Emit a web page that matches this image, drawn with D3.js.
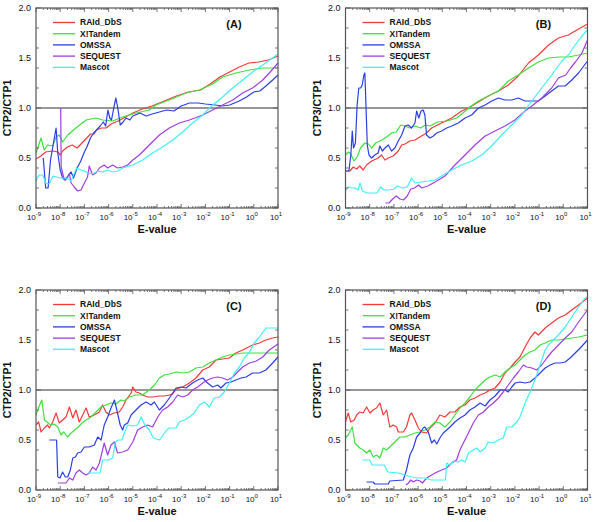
<!DOCTYPE html>
<html><head><meta charset="utf-8">
<script src="https://cdn.jsdelivr.net/npm/d3@7"></script>
<style>body{margin:0;background:#fff}svg{display:block}</style>
</head><body><svg id="chart" width="600" height="522"></svg>
<script>
// ---- DATA: [log10(E-value), ratio] ----
const seriesNames = ["RAId_DbS","X!Tandem","OMSSA","SEQUEST","Mascot"];
const seriesColors = ["#f23a3a","#3ee03e","#2a3fe6","#a23ee0","#3ff2f2"];
const panelTags = ["(A)","(B)","(C)","(D)"];
const yTitles = ["CTP2/CTP1","CTP3/CTP1","CTP2/CTP1","CTP3/CTP1"];
const xTickExps = [-9,-8,-7,-6,-5,-4,-3,-2,-1,0,1];
const yTicks = [0,0.5,1,1.5,2];
const yTickLabels = ["0.0","0.5","1.0","1.5","2.0"];
const xTitle = "E-value";
const refLine = 1.0;

const A_RAId = [[-9,0.49],[-8.8,0.52],[-8.6,0.56],[-8.3,0.57],[-8.1,0.56],[-8.0,0.53],[-7.9,0.57],[-7.7,0.61],[-7.5,0.63],[-7.3,0.60],[-7.1,0.65],[-6.9,0.70],[-6.75,0.74],[-6.6,0.74],[-6.5,0.78],[-6.3,0.80],[-6.1,0.80],[-5.9,0.84],[-5.6,0.87],[-5.3,0.91],[-5.0,0.95],[-4.6,0.99],[-4.2,1.02],[-3.6,1.08],[-3.2,1.12],[-2.7,1.16],[-2.2,1.18],[-1.8,1.24],[-1.4,1.31],[-1.0,1.36],[-0.6,1.41],[-0.2,1.45],[0.2,1.46],[0.6,1.48],[1.0,1.52]];
const A_XTandem = [[-9,0.55],[-8.79,0.70],[-8.66,0.58],[-8.52,0.63],[-8.31,0.62],[-8.17,0.71],[-8.04,0.73],[-7.9,0.66],[-7.69,0.73],[-7.35,0.80],[-6.93,0.88],[-6.52,0.90],[-6.25,0.88],[-5.83,0.87],[-5.42,0.91],[-4.87,0.95],[-4.32,0.98],[-4.04,1.03],[-3.49,1.08],[-2.8,1.15],[-2.25,1.18],[-1.7,1.24],[-1.29,1.31],[-0.74,1.35],[-0.18,1.38],[0.37,1.40],[1.0,1.40]];
const A_OMSSA = [[-8.70,0.50],[-8.60,0.20],[-8.50,0.20],[-8.40,0.48],[-8.30,0.62],[-8.17,0.80],[-8.10,0.55],[-8.0,0.38],[-7.9,0.30],[-7.78,0.28],[-7.65,0.33],[-7.55,0.36],[-7.45,0.30],[-7.3,0.40],[-7.15,0.47],[-7.0,0.56],[-6.88,0.62],[-6.75,0.70],[-6.62,0.75],[-6.5,0.78],[-6.35,0.82],[-6.22,0.86],[-6.12,0.82],[-6.03,0.98],[-5.95,0.90],[-5.88,0.88],[-5.78,1.01],[-5.7,1.10],[-5.62,1.0],[-5.52,0.83],[-5.4,0.86],[-5.28,0.90],[-5.12,0.88],[-5.0,0.92],[-4.7,0.95],[-4.45,0.92],[-4.2,0.94],[-3.9,0.96],[-3.6,0.98],[-3.3,0.97],[-3.0,1.02],[-2.66,1.05],[-2.3,1.05],[-2.0,1.04],[-1.6,1.03],[-1.3,1.02],[-1.0,1.03],[-0.6,1.07],[-0.3,1.11],[0.0,1.16],[0.25,1.17],[0.5,1.22],[0.78,1.28],[1.0,1.33]];
const A_SEQUEST = [[-7.98,1.0],[-7.96,0.41],[-7.83,0.28],[-7.7,0.31],[-7.62,0.34],[-7.55,0.25],[-7.42,0.21],[-7.28,0.17],[-7.14,0.18],[-7.0,0.25],[-6.87,0.31],[-6.8,0.42],[-6.66,0.33],[-6.52,0.35],[-6.38,0.40],[-6.18,0.43],[-6.04,0.40],[-5.83,0.43],[-5.63,0.40],[-5.42,0.41],[-5.21,0.43],[-5.0,0.48],[-4.73,0.53],[-4.32,0.63],[-3.9,0.73],[-3.49,0.80],[-3.08,0.85],[-2.66,0.88],[-2.11,0.93],[-1.7,0.98],[-1.29,1.03],[-0.87,1.08],[-0.46,1.15],[-0.05,1.20],[0.37,1.28],[0.64,1.35],[1.0,1.45]];
const A_Mascot = [[-9,0.27],[-8.88,0.33],[-8.72,0.33],[-8.6,0.25],[-8.45,0.24],[-8.3,0.32],[-8.15,0.31],[-8.0,0.30],[-7.8,0.30],[-7.65,0.29],[-7.55,0.27],[-7.45,0.33],[-7.32,0.40],[-7.15,0.38],[-7.0,0.37],[-6.85,0.35],[-6.66,0.34],[-6.45,0.37],[-6.25,0.36],[-6.05,0.38],[-5.83,0.36],[-5.62,0.37],[-5.42,0.40],[-5.0,0.43],[-4.59,0.48],[-4.18,0.55],[-3.77,0.61],[-3.35,0.68],[-2.94,0.76],[-2.53,0.85],[-2.11,0.93],[-1.70,1.03],[-1.29,1.11],[-0.87,1.20],[-0.46,1.28],[-0.05,1.36],[0.37,1.43],[1.0,1.54]];

const B_RAId = [[-9,0.37],[-8.82,0.37],[-8.68,0.41],[-8.54,0.39],[-8.41,0.42],[-8.27,0.38],[-8.13,0.43],[-7.92,0.47],[-7.65,0.50],[-7.51,0.53],[-7.37,0.48],[-7.23,0.50],[-7.03,0.52],[-6.82,0.57],[-6.68,0.63],[-6.54,0.64],[-6.34,0.67],[-6.13,0.68],[-5.86,0.72],[-5.65,0.75],[-5.44,0.80],[-5.03,0.85],[-4.61,0.90],[-4.2,0.97],[-3.92,1.0],[-3.51,1.06],[-3.1,1.12],[-2.68,1.17],[-2.27,1.23],[-1.86,1.32],[-1.44,1.45],[-1.03,1.53],[-0.61,1.63],[-0.2,1.70],[0.21,1.73],[0.63,1.79],[1.0,1.84]];
const B_XTandem = [[-9,0.53],[-8.88,0.56],[-8.78,0.54],[-8.65,0.47],[-8.5,0.52],[-8.38,0.60],[-8.2,0.65],[-8.05,0.64],[-7.92,0.60],[-7.75,0.65],[-7.5,0.68],[-7.3,0.71],[-7.1,0.75],[-6.9,0.76],[-6.72,0.83],[-6.55,0.82],[-6.35,0.80],[-6.13,0.82],[-5.9,0.80],[-5.7,0.83],[-5.5,0.82],[-5.2,0.86],[-4.8,0.87],[-4.4,0.90],[-4.1,0.96],[-3.75,1.03],[-3.5,1.07],[-3.1,1.12],[-2.68,1.17],[-2.27,1.27],[-1.86,1.33],[-1.44,1.40],[-1.03,1.46],[-0.61,1.50],[-0.2,1.51],[0.21,1.51],[0.63,1.53],[1.0,1.55]];
const B_OMSSA = [[-9,0.37],[-8.86,0.37],[-8.78,0.53],[-8.72,0.77],[-8.67,0.60],[-8.59,0.65],[-8.52,1.03],[-8.45,1.20],[-8.37,1.20],[-8.31,1.23],[-8.24,1.33],[-8.2,1.35],[-8.13,0.85],[-8.1,0.63],[-8.03,0.53],[-7.92,0.50],[-7.79,0.53],[-7.65,0.55],[-7.58,0.62],[-7.48,0.57],[-7.37,0.60],[-7.23,0.63],[-7.1,0.57],[-6.96,0.60],[-6.82,0.67],[-6.68,0.73],[-6.54,0.82],[-6.41,0.83],[-6.27,0.80],[-6.13,0.85],[-6.06,0.97],[-5.97,0.90],[-5.88,0.97],[-5.79,0.98],[-5.72,0.93],[-5.65,0.73],[-5.51,0.70],[-5.37,0.72],[-5.23,0.75],[-5.03,0.77],[-4.82,0.80],[-4.61,0.82],[-4.34,0.85],[-4.06,0.90],[-3.79,0.93],[-3.51,1.0],[-3.23,1.03],[-2.96,1.07],[-2.68,1.10],[-2.41,1.08],[-2.13,1.08],[-1.86,1.10],[-1.58,1.07],[-1.3,1.07],[-1.03,1.07],[-0.75,1.12],[-0.48,1.17],[-0.2,1.22],[0.08,1.22],[0.35,1.28],[0.63,1.35],[1.0,1.47]];
const B_SEQUEST = [[-7.35,0.05],[-7.2,0.05],[-7.05,0.09],[-6.9,0.12],[-6.75,0.09],[-6.6,0.08],[-6.45,0.12],[-6.3,0.19],[-6.15,0.20],[-5.98,0.23],[-5.85,0.20],[-5.6,0.22],[-5.3,0.26],[-4.89,0.32],[-4.48,0.43],[-4.06,0.53],[-3.65,0.63],[-3.23,0.72],[-2.82,0.77],[-2.41,0.82],[-2.0,0.88],[-1.58,0.97],[-1.3,1.02],[-0.89,1.10],[-0.48,1.20],[-0.2,1.30],[0.1,1.33],[0.3,1.40],[0.5,1.46],[0.77,1.55],[1.0,1.68]];
const B_Mascot = [[-9,0.17],[-8.9,0.21],[-8.75,0.20],[-8.6,0.20],[-8.48,0.18],[-8.4,0.25],[-8.3,0.17],[-8.1,0.15],[-7.9,0.15],[-7.7,0.15],[-7.55,0.21],[-7.4,0.18],[-7.2,0.18],[-7.0,0.19],[-6.85,0.22],[-6.65,0.20],[-6.45,0.21],[-6.27,0.30],[-6.13,0.25],[-5.86,0.26],[-5.58,0.27],[-5.3,0.28],[-5.03,0.32],[-4.61,0.38],[-4.2,0.43],[-3.78,0.47],[-3.37,0.53],[-2.96,0.62],[-2.55,0.73],[-2.13,0.83],[-1.72,0.93],[-1.3,1.07],[-0.89,1.20],[-0.48,1.33],[-0.06,1.47],[0.21,1.53],[0.49,1.63],[0.77,1.72],[1.0,1.78]];

const C_RAId = [[-9,0.65],[-8.89,0.68],[-8.79,0.58],[-8.66,0.62],[-8.52,0.65],[-8.45,0.62],[-8.31,0.68],[-8.17,0.77],[-8.04,0.67],[-7.9,0.70],[-7.76,0.73],[-7.62,0.83],[-7.48,0.72],[-7.35,0.80],[-7.21,0.68],[-7.07,0.75],[-6.93,0.82],[-6.8,0.73],[-6.59,0.75],[-6.38,0.78],[-6.25,0.85],[-6.11,0.78],[-5.97,0.75],[-5.76,0.77],[-5.56,0.78],[-5.42,0.83],[-5.28,0.90],[-5.07,0.97],[-5.0,1.03],[-4.87,0.98],[-4.73,0.97],[-4.59,0.95],[-4.39,0.93],[-4.18,0.93],[-3.9,0.94],[-3.7,0.94],[-3.49,0.95],[-3.35,0.96],[-3.21,1.01],[-2.94,1.03],[-2.66,1.07],[-2.39,1.12],[-2.11,1.20],[-1.84,1.23],[-1.56,1.30],[-1.29,1.31],[-1.01,1.32],[-0.74,1.37],[-0.46,1.40],[-0.05,1.45],[0.23,1.47],[0.5,1.50],[0.78,1.52],[1.0,1.53]];
const C_XTandem = [[-9,0.75],[-8.9,0.82],[-8.76,0.90],[-8.65,0.70],[-8.55,0.68],[-8.4,0.65],[-8.25,0.66],[-8.1,0.63],[-7.97,0.55],[-7.85,0.58],[-7.7,0.53],[-7.55,0.57],[-7.4,0.60],[-7.25,0.63],[-7.1,0.67],[-6.93,0.70],[-6.73,0.73],[-6.52,0.78],[-6.31,0.83],[-6.11,0.85],[-5.9,0.87],[-5.7,0.86],[-5.5,0.90],[-5.35,0.89],[-5.14,0.93],[-4.87,0.95],[-4.6,0.95],[-4.32,1.0],[-4.1,1.05],[-3.9,1.12],[-3.7,1.15],[-3.49,1.16],[-3.21,1.18],[-2.94,1.17],[-2.66,1.18],[-2.39,1.22],[-2.11,1.23],[-1.84,1.27],[-1.56,1.30],[-1.29,1.33],[-1.01,1.35],[-0.46,1.37],[0.1,1.37],[0.6,1.37],[1.0,1.37]];
const C_OMSSA = [[-8.45,0.50],[-8.15,0.50],[-8.1,0.13],[-8.01,0.12],[-7.9,0.18],[-7.79,0.13],[-7.69,0.13],[-7.58,0.20],[-7.48,0.32],[-7.37,0.33],[-7.28,0.37],[-7.14,0.38],[-7.0,0.43],[-6.8,0.43],[-6.59,0.45],[-6.45,0.53],[-6.31,0.50],[-6.18,0.65],[-6.04,0.73],[-5.9,0.82],[-5.76,0.90],[-5.66,0.80],[-5.52,0.65],[-5.42,0.60],[-5.35,0.65],[-5.21,0.67],[-5.07,0.75],[-4.87,0.80],[-4.66,0.85],[-4.45,0.88],[-4.25,0.85],[-4.11,0.88],[-3.9,0.80],[-3.7,0.85],[-3.49,0.92],[-3.21,1.02],[-3.01,1.03],[-2.8,1.02],[-2.53,1.07],[-2.32,1.10],[-2.11,1.12],[-1.91,1.07],[-1.7,1.03],[-1.49,1.05],[-1.36,1.02],[-1.15,1.07],[-0.94,1.08],[-0.74,1.10],[-0.53,1.12],[-0.32,1.13],[-0.05,1.17],[0.23,1.17],[0.5,1.20],[0.78,1.27],[1.0,1.33]];
const C_SEQUEST = [[-8.1,0.07],[-7.9,0.07],[-7.76,0.07],[-7.62,0.12],[-7.48,0.10],[-7.35,0.17],[-7.21,0.20],[-7.07,0.17],[-6.93,0.15],[-6.8,0.17],[-6.66,0.23],[-6.52,0.20],[-6.38,0.27],[-6.25,0.40],[-6.18,0.47],[-6.04,0.35],[-5.9,0.45],[-5.76,0.48],[-5.63,0.37],[-5.42,0.38],[-5.21,0.40],[-5.0,0.48],[-4.8,0.60],[-4.59,0.63],[-4.39,0.65],[-4.18,0.63],[-3.97,0.73],[-3.77,0.80],[-3.56,0.83],[-3.35,0.88],[-3.15,0.95],[-2.94,0.93],[-2.73,0.95],[-2.53,1.0],[-2.32,1.03],[-2.11,1.07],[-1.91,1.10],[-1.7,1.12],[-1.49,1.13],[-1.29,1.12],[-1.08,1.10],[-0.87,1.13],[-0.67,1.18],[-0.46,1.23],[-0.18,1.27],[0.1,1.29],[0.37,1.33],[0.64,1.40],[1.0,1.46]];
const C_Mascot = [[-6.85,0.17],[-6.5,0.17],[-6.35,0.17],[-6.25,0.30],[-6.0,0.30],[-5.83,0.32],[-5.72,0.48],[-5.6,0.50],[-5.45,0.50],[-5.35,0.57],[-5.21,0.65],[-5.0,0.64],[-4.8,0.65],[-4.66,0.73],[-4.5,0.65],[-4.32,0.60],[-4.15,0.52],[-3.9,0.50],[-3.75,0.55],[-3.6,0.60],[-3.49,0.62],[-3.21,0.62],[-3.08,0.68],[-2.87,0.70],[-2.66,0.73],[-2.46,0.77],[-2.25,0.85],[-2.04,0.88],[-1.84,0.83],[-1.63,0.92],[-1.42,0.93],[-1.22,0.98],[-1.01,1.07],[-0.8,1.17],[-0.6,1.23],[-0.39,1.32],[-0.18,1.38],[0.02,1.47],[0.23,1.53],[0.5,1.62],[1.0,1.62]];

const D_RAId = [[-9,0.68],[-8.89,0.77],[-8.78,0.68],[-8.64,0.70],[-8.54,0.75],[-8.41,0.78],[-8.27,0.77],[-8.13,0.83],[-7.99,0.77],[-7.86,0.80],[-7.72,0.82],[-7.58,0.87],[-7.44,0.75],[-7.3,0.80],[-7.17,0.63],[-7.03,0.65],[-6.89,0.63],[-6.82,0.58],[-6.61,0.58],[-6.48,0.63],[-6.34,0.75],[-6.27,0.77],[-6.13,0.70],[-5.99,0.62],[-5.86,0.58],[-5.65,0.57],[-5.51,0.62],[-5.3,0.67],[-5.1,0.75],[-4.89,0.73],[-4.68,0.78],[-4.48,0.78],[-4.27,0.83],[-4.06,0.85],[-3.86,0.90],[-3.65,0.92],[-3.44,0.95],[-3.23,0.97],[-3.03,1.0],[-2.82,1.02],[-2.61,1.08],[-2.41,1.17],[-2.2,1.22],[-1.99,1.28],[-1.79,1.33],[-1.58,1.43],[-1.37,1.52],[-1.17,1.58],[-1.03,1.55],[-0.75,1.62],[-0.48,1.67],[-0.2,1.72],[0.08,1.75],[0.35,1.80],[0.63,1.85],[1.0,1.92]];
const D_XTandem = [[-9,0.52],[-8.89,0.55],[-8.72,0.63],[-8.61,0.47],[-8.41,0.42],[-8.27,0.40],[-8.13,0.37],[-7.99,0.40],[-7.86,0.33],[-7.72,0.35],[-7.58,0.32],[-7.44,0.42],[-7.3,0.40],[-7.17,0.43],[-6.96,0.48],[-6.75,0.53],[-6.54,0.53],[-6.34,0.55],[-6.13,0.57],[-5.92,0.58],[-5.72,0.60],[-5.51,0.63],[-5.3,0.68],[-5.1,0.67],[-4.89,0.63],[-4.68,0.68],[-4.48,0.75],[-4.27,0.82],[-4.06,0.87],[-3.86,0.93],[-3.65,1.0],[-3.44,1.05],[-3.23,1.10],[-3.03,1.13],[-2.82,1.15],[-2.61,1.13],[-2.41,1.18],[-2.2,1.22],[-1.99,1.25],[-1.79,1.30],[-1.58,1.35],[-1.37,1.38],[-1.17,1.40],[-0.96,1.45],[-0.75,1.47],[-0.48,1.50],[-0.2,1.50],[0.08,1.51],[0.35,1.52],[0.63,1.53],[1.0,1.55]];
const D_OMSSA = [[-8.13,0.08],[-7.86,0.08],[-7.79,0.06],[-7.23,0.06],[-7.17,0.09],[-6.61,0.10],[-6.48,0.20],[-6.34,0.35],[-6.2,0.42],[-6.06,0.53],[-5.92,0.57],[-5.79,0.62],[-5.72,0.63],[-5.58,0.58],[-5.44,0.47],[-5.33,0.50],[-5.23,0.46],[-5.1,0.52],[-4.96,0.57],[-4.82,0.60],[-4.68,0.63],[-4.48,0.68],[-4.27,0.72],[-4.06,0.75],[-3.86,0.80],[-3.65,0.83],[-3.44,0.87],[-3.23,0.84],[-3.03,0.90],[-2.82,0.94],[-2.61,1.0],[-2.41,1.0],[-2.27,0.98],[-2.13,1.03],[-1.99,1.07],[-1.79,1.08],[-1.58,1.07],[-1.37,1.08],[-1.17,1.12],[-0.96,1.17],[-0.75,1.22],[-0.54,1.25],[-0.34,1.27],[-0.13,1.27],[0.08,1.28],[0.28,1.32],[0.49,1.37],[0.7,1.42],[1.0,1.50]];
const D_SEQUEST = [[-6.5,0.05],[-6.4,0.07],[-6.3,0.10],[-6.2,0.08],[-6.06,0.10],[-5.92,0.09],[-5.82,0.07],[-5.72,0.10],[-5.58,0.13],[-5.3,0.17],[-5.03,0.20],[-4.82,0.22],[-4.61,0.27],[-4.41,0.30],[-4.27,0.40],[-4.13,0.47],[-3.92,0.57],[-3.72,0.67],[-3.51,0.75],[-3.3,0.78],[-3.1,0.83],[-2.89,0.87],[-2.68,0.92],[-2.48,0.98],[-2.27,1.05],[-2.06,1.12],[-1.86,1.18],[-1.65,1.25],[-1.51,1.23],[-1.3,1.22],[-1.1,1.20],[-0.89,1.25],[-0.68,1.32],[-0.48,1.38],[-0.2,1.45],[0.08,1.52],[0.35,1.58],[0.63,1.68],[1.0,1.80]];
const D_Mascot = [[-8.3,0.30],[-8.0,0.30],[-7.9,0.25],[-7.4,0.25],[-7.25,0.18],[-6.82,0.17],[-6.54,0.15],[-6.27,0.13],[-5.99,0.12],[-5.72,0.12],[-5.44,0.10],[-4.87,0.10],[-4.82,0.27],[-4.68,0.25],[-4.54,0.29],[-4.34,0.28],[-4.2,0.30],[-4.06,0.28],[-3.92,0.37],[-3.72,0.40],[-3.58,0.42],[-3.44,0.38],[-3.23,0.42],[-3.1,0.48],[-2.89,0.47],[-2.68,0.50],[-2.48,0.52],[-2.34,0.63],[-2.13,0.63],[-1.92,0.68],[-1.79,0.73],[-1.58,0.87],[-1.37,0.98],[-1.17,1.10],[-1.03,1.20],[-0.89,1.30],[-0.75,1.40],[-0.61,1.45],[-0.41,1.50],[-0.2,1.55],[0.08,1.63],[0.35,1.73],[0.63,1.83],[0.9,1.92],[1.0,1.93]];

const panelData = [
  [A_RAId, A_XTandem, A_OMSSA, A_SEQUEST, A_Mascot],
  [B_RAId, B_XTandem, B_OMSSA, B_SEQUEST, B_Mascot],
  [C_RAId, C_XTandem, C_OMSSA, C_SEQUEST, C_Mascot],
  [D_RAId, D_XTandem, D_OMSSA, D_SEQUEST, D_Mascot]
];

// ---- LAYOUT ----
const layout = [{x:36,y:8},{x:345.5,y:8},{x:36,y:290},{x:345.5,y:290}];
const W = 242, H = 200;
const font = "'Liberation Sans', Arial, Helvetica, sans-serif";
const svg = d3.select("#chart");
const frameColor = "#555";

panelData.forEach((series, pi) => {
  const L = layout[pi];
  const g = svg.append("g").attr("transform", `translate(${L.x},${L.y})`);
  const x = d3.scaleLog().domain([1e-9, 10]).range([0, W]);
  const y = d3.scaleLinear().domain([0, 2]).range([H, 0]);

  g.append("line").attr("x1", 0).attr("x2", W)
    .attr("y1", y(refLine)).attr("y2", y(refLine))
    .attr("stroke", "#333").attr("stroke-width", 1.2);

  const line = d3.line().x(d => x(Math.pow(10, d[0]))).y(d => y(d[1]));
  series.forEach((s, si) => {
    g.append("path").datum(s).attr("d", line)
      .attr("fill", "none").attr("stroke", seriesColors[si])
      .attr("stroke-width", 1.2).attr("stroke-linejoin", "round");
  });

  g.append("rect").attr("x", 0).attr("y", 0).attr("width", W).attr("height", H)
    .attr("fill", "none").attr("stroke", frameColor).attr("stroke-width", 1.2);

  const ticks = g.append("g").attr("stroke", frameColor).attr("stroke-width", 0.8);
  xTickExps.forEach(e => {
    const v = Math.pow(10, e);
    const px = x(v);
    ticks.append("line").attr("x1", px).attr("x2", px).attr("y1", H).attr("y2", H - 4);
    ticks.append("line").attr("x1", px).attr("x2", px).attr("y1", 0).attr("y2", 4);
    if (e < 1) {
      for (let m = 2; m <= 9; m++) {
        const mx = x(m * v);
        ticks.append("line").attr("x1", mx).attr("x2", mx).attr("y1", H).attr("y2", H - 2);
        ticks.append("line").attr("x1", mx).attr("x2", mx).attr("y1", 0).attr("y2", 2);
      }
    }
  });
  y.ticks(8).forEach(t => {
    const major = Math.abs(t * 2 - Math.round(t * 2)) < 1e-6;
    const len = major ? 5 : 3;
    const py = y(t);
    ticks.append("line").attr("x1", 0).attr("x2", len).attr("y1", py).attr("y2", py);
    ticks.append("line").attr("x1", W).attr("x2", W - len).attr("y1", py).attr("y2", py);
  });

  xTickExps.forEach(e => {
    const t = g.append("text").attr("x", x(Math.pow(10, e)) - 2).attr("y", H + 12)
      .attr("text-anchor", "middle").attr("font-family", font).attr("font-size", 8).attr("fill", "#111");
    t.append("tspan").text("10");
    t.append("tspan").attr("dy", -4).attr("font-size", 6).text(String(e));
  });
  yTicks.forEach((t, i) => {
    g.append("text").attr("x", -5).attr("y", y(t)).attr("dy", "0.35em")
      .attr("text-anchor", "end").attr("font-family", font).attr("font-size", 9)
      .attr("fill", "#111").text(yTickLabels[i]);
  });

  g.append("text").attr("x", W / 2).attr("y", H + 25).attr("text-anchor", "middle")
    .attr("font-family", font).attr("font-weight", "bold").attr("font-size", 11)
    .attr("fill", "#111").text(xTitle);
  g.append("text").attr("transform", `translate(${-25},${H / 2}) rotate(-90)`)
    .attr("text-anchor", "middle").attr("font-family", font).attr("font-weight", "bold")
    .attr("font-size", 10.5).attr("fill", "#111").text(yTitles[pi]);

  g.append("text").attr("x", W - 44).attr("y", 20).attr("text-anchor", "middle")
    .attr("font-family", font).attr("font-weight", "bold").attr("font-size", 11)
    .attr("fill", "#111").text(panelTags[pi]);

  seriesNames.forEach((name, si) => {
    const ly = 14.5 + 11.2 * si;
    g.append("line").attr("x1", 17).attr("x2", 39).attr("y1", ly).attr("y2", ly)
      .attr("stroke", seriesColors[si]).attr("stroke-width", 1.3);
    g.append("text").attr("x", 44).attr("y", ly).attr("dy", "0.35em")
      .attr("font-family", font).attr("font-weight", "bold").attr("font-size", 8.5)
      .attr("fill", "#111").text(name);
  });
});
</script>
</body></html>
